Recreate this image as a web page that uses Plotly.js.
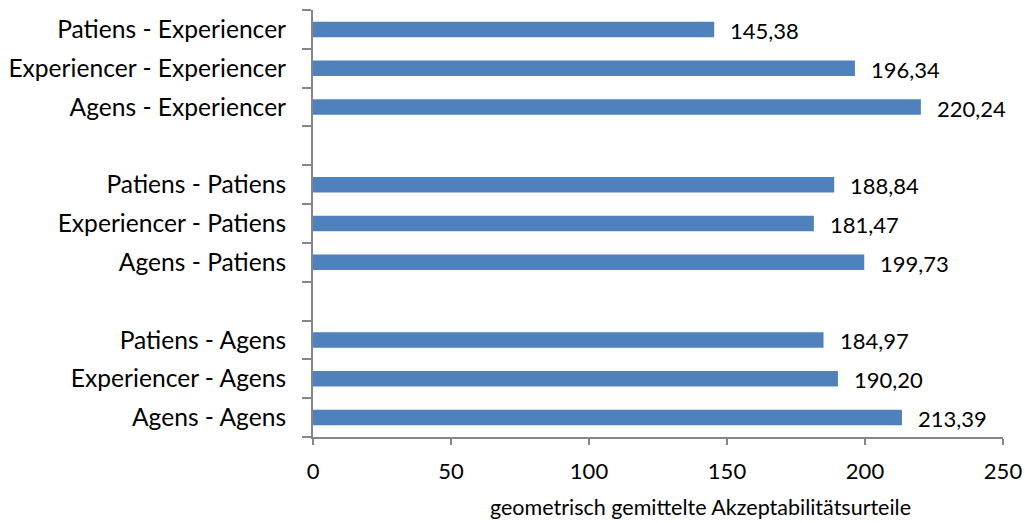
<!DOCTYPE html>
<html>
<head>
<meta charset="utf-8">
<script src="https://cdn.plot.ly/plotly-3.0.1.min.js"></script>
<style>
  html, body { margin: 0; padding: 0; background: #ffffff; }
  #chart { width: 1025px; height: 523px; }
</style>
</head>
<body>
<div id="chart"></div>
<script>
// Category order from bottom to top; blank entries separate the three groups
const categories = [
  "Agens - Agens", "Experiencer - Agens", "Patiens - Agens", " ",
  "Agens - Patiens", "Experiencer - Patiens", "Patiens - Patiens", "  ",
  "Agens - Experiencer", "Experiencer - Experiencer", "Patiens - Experiencer"
];
const barLabels = [
  "Agens - Agens", "Experiencer - Agens", "Patiens - Agens",
  "Agens - Patiens", "Experiencer - Patiens", "Patiens - Patiens",
  "Agens - Experiencer", "Experiencer - Experiencer", "Patiens - Experiencer"
];
const barValues = [213.39, 190.20, 184.97, 199.73, 181.47, 188.84, 220.24, 196.34, 145.38];
const xTicks = [0, 50, 100, 150, 200, 250];
const xTitle = "geometrisch gemittelte Akzeptabilitätsurteile";

const font = "Lato, 'Open Sans', sans-serif";
const axisGrey = "#868686";

const fmt = v => v.toFixed(2).replace(".", ",");

const trace = {
  type: "bar",
  orientation: "h",
  x: barValues,
  y: barLabels,
  marker: { color: "#4F81BD" },
  hoverinfo: "none"
};

const notes = barValues.map((v, i) => ({
  x: v, y: barLabels[i], xref: "x", yref: "y",
  text: fmt(v), showarrow: false,
  xanchor: "left", yanchor: "middle", xshift: 14, yshift: -1,
  font: { family: font, size: 22, color: "#000000" }
}));

// Axis title, positioned in pixels relative to the plot area
const margin = { l: 313, r: 22, t: 10, b: 86 };
const plotW = 1025 - margin.l - margin.r, plotH = 523 - margin.t - margin.b;
notes.push({
  x: (700 - margin.l) / plotW, y: (523 - margin.b - 507) / plotH,
  xref: "paper", yref: "paper",
  text: xTitle, showarrow: false, xanchor: "center", yanchor: "middle",
  font: { family: font, size: 21.5, color: "#000000" }
});

const layout = {
  width: 1025, height: 523,
  margin: Object.assign({ pad: 0 }, margin),
  paper_bgcolor: "#ffffff",
  plot_bgcolor: "#ffffff",
  showlegend: false,
  bargap: 0.6,
  separators: ",.",
  xaxis: {
    range: [0, 250],
    tickvals: xTicks,
    ticktext: xTicks.map(String),
    showgrid: false,
    zeroline: false,
    showline: true,
    linecolor: axisGrey,
    linewidth: 2,
    ticks: "outside",
    ticklen: 6,
    tickwidth: 2,
    tickcolor: axisGrey,
    ticklabelstandoff: 8,
    tickfont: { family: font, size: 22, color: "#000000" },
    fixedrange: true
  },
  yaxis: {
    type: "category",
    categoryorder: "array",
    categoryarray: categories,
    range: [-0.5, categories.length - 0.5],
    tickson: "boundaries",
    showgrid: false,
    zeroline: false,
    showline: true,
    linecolor: axisGrey,
    linewidth: 2,
    ticks: "outside",
    ticklen: 9,
    tickwidth: 2,
    tickcolor: axisGrey,
    ticklabelstandoff: 20,
    tickfont: { family: font, size: 24.6, color: "#000000" },
    fixedrange: true
  },
  annotations: notes
};

Plotly.newPlot("chart", [trace], layout, { displayModeBar: false, staticPlot: true });
</script>
</body>
</html>
